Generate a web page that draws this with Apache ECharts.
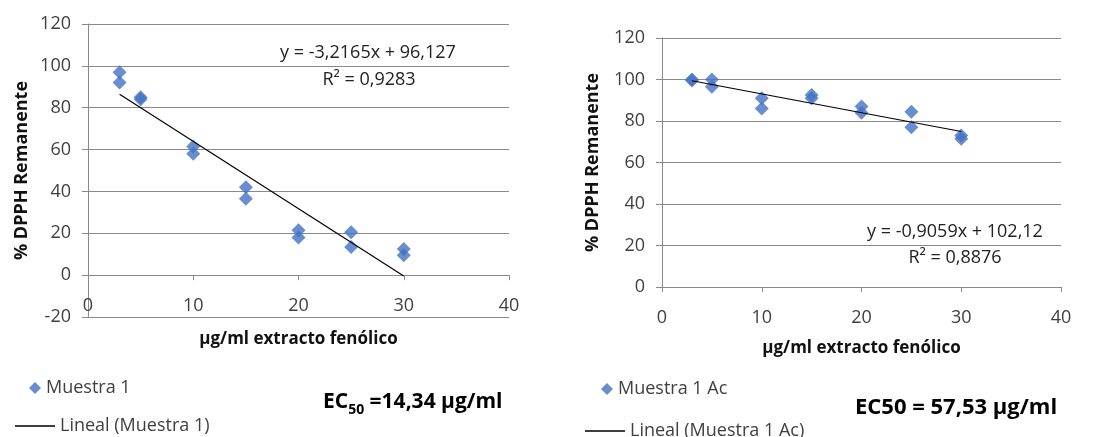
<!DOCTYPE html>
<html>
<head>
<meta charset="utf-8">
<script src="https://cdn.jsdelivr.net/npm/echarts@6/dist/echarts.min.js"></script>
<style>
  html, body { margin: 0; padding: 0; background: #ffffff; }
  #chart { width: 1093px; height: 437px; }
</style>
</head>
<body>
<div id="chart"></div>
<script>
// Concentrations (µg/ml) of phenolic extract, duplicates per level
const concMuestra1 = [3, 3, 5, 5, 10, 10, 15, 15, 20, 20, 25, 25, 30, 30];
const dpphMuestra1 = [97, 92, 85, 84, 61.5, 58, 42, 36.5, 21.5, 18, 20.5, 13.5, 12.5, 9.5];

const concMuestra1Ac = [3, 3, 5, 5, 10, 10, 15, 15, 20, 20, 25, 25, 30, 30];
const dpphMuestra1Ac = [100, 99.5, 100, 96.5, 91, 86, 92.5, 91, 87, 84, 84.5, 77, 73, 71.5];

// Linear trendlines as reported on each panel
const fitMuestra1 = { slope: -3.2165, intercept: 96.127, r2: '0,9283', eq: 'y = -3,2165x + 96,127' };
const fitMuestra1Ac = { slope: -0.9059, intercept: 102.12, r2: '0,8876', eq: 'y = -0,9059x + 102,12' };
const trendRange = [3, 30];

const ec50Left = '14,34';
const ec50Right = '57,53';

const xTitle = 'µg/ml extracto fenólico';
const yTitle = '% DPPH Remanente';

const pairs = (xs, ys) => xs.map((x, i) => [x, ys[i]]);
const trend = fit => trendRange.map(x => [x, fit.slope * x + fit.intercept]);

const FONT = '"Open Sans", "Liberation Sans", sans-serif';
const GRID_GREY = '#8a8a8a';
const LABEL_GREY = '#404040';
const BLUE = '#4472C4';

// Left panel: y runs -20..120 over a 293px plot, the x axis sits on the zero line
const LEFT_PLOT_H = 293;
const zeroLift = -LEFT_PLOT_H * 20 / 140;

function xAxisFor(gridIndex, gap, offset) {
  return {
    gridIndex, type: 'value', min: 0, max: 40, interval: 10, offset,
    axisLine: { show: true, onZero: false, lineStyle: { color: GRID_GREY, width: 1 } },
    axisTick: { show: true, length: 5, lineStyle: { color: GRID_GREY } },
    splitLine: { show: false },
    axisLabel: { fontFamily: FONT, fontSize: 18, color: LABEL_GREY, margin: 22 },
    name: xTitle, nameLocation: 'middle', nameGap: gap, nameMoveOverlap: false,
    nameTextStyle: { fontFamily: FONT, fontSize: 17, fontWeight: 'bold', color: '#111' }
  };
}
function yAxisFor(gridIndex, min, gap) {
  return {
    gridIndex, type: 'value', min, max: 120, interval: 20,
    axisLine: { show: true, onZero: false, lineStyle: { color: GRID_GREY, width: 1 } },
    axisTick: { show: true, length: 6, lineStyle: { color: GRID_GREY } },
    splitLine: { show: true, lineStyle: { color: GRID_GREY, width: 1 } },
    axisLabel: { fontFamily: FONT, fontSize: 18, color: LABEL_GREY, margin: 17 },
    name: yTitle, nameLocation: 'middle', nameRotate: 90, nameGap: gap, nameMoveOverlap: false,
    nameTextStyle: { fontFamily: FONT, fontSize: 18, fontWeight: 'bold', color: '#111' }
  };
}

const legendText = { fontFamily: FONT, fontSize: 18, color: LABEL_GREY };
const ecRich = {
  a: { fontFamily: FONT, fontSize: 21, fontWeight: 'bold', color: '#000', lineHeight: 30 },
  b: { fontFamily: FONT, fontSize: 14, fontWeight: 'bold', color: '#000', verticalAlign: 'bottom', lineHeight: 30, padding: [9, 0, 0, 0] }
};
const ecRichWide = {
  a: { fontFamily: FONT, fontSize: 22, fontWeight: 'bold', color: '#000', lineHeight: 30 }
};

const chart = echarts.init(document.getElementById('chart'), null, { renderer: 'canvas' });
chart.setOption({
  animation: false,
  backgroundColor: '#ffffff',
  grid: [
    { left: 88, right: 584, top: 24, height: LEFT_PLOT_H },
    { left: 662, right: 32, top: 38, bottom: 150 }
  ],
  xAxis: [xAxisFor(0, 56, zeroLift), xAxisFor(1, 53, 0)],
  yAxis: [yAxisFor(0, -20, 57), yAxisFor(1, 0, 60)],
  legend: [
    { data: [{ name: 'Muestra 1', icon: 'diamond' }], left: 29, top: 379, itemWidth: 12, itemHeight: 12, itemTextGap: 19, selectedMode: false, padding: 0, textStyle: legendText },
    { data: [{ name: 'Lineal (Muestra 1)', icon: 'rect' }], left: 15, top: 417, itemWidth: 40, itemHeight: 1.5, itemTextGap: 5, selectedMode: false, padding: 0, textStyle: legendText },
    { data: [{ name: 'Muestra 1 Ac', icon: 'diamond' }], left: 601, top: 380, itemWidth: 12, itemHeight: 12, itemTextGap: 20, selectedMode: false, padding: 0, textStyle: legendText },
    { data: [{ name: 'Lineal (Muestra 1 Ac)', icon: 'rect' }], left: 585, top: 422, itemWidth: 40, itemHeight: 1.5, itemTextGap: 2, selectedMode: false, padding: 0, textStyle: legendText }
  ],
  title: [
    { left: 323, top: 387, padding: 0, text: '{a|EC}{b|50}{a| =' + ec50Left + ' µg/ml}', textStyle: { rich: ecRich } },
    { left: 855, top: 393, padding: 0, text: '{a|EC50 = ' + ec50Right + ' µg/ml}', textStyle: { rich: ecRichWide } }
  ],
  graphic: [
    { type: 'text', x: 368, y: 53, style: { text: fitMuestra1.eq, font: '18px ' + FONT, fill: '#222', align: 'center', verticalAlign: 'middle', textAlign: 'center', textVerticalAlign: 'middle' } },
    { type: 'text', x: 369, y: 80, style: { text: 'R² = ' + fitMuestra1.r2, font: '18px ' + FONT, fill: '#222', align: 'center', verticalAlign: 'middle', textAlign: 'center', textVerticalAlign: 'middle' } },
    { type: 'text', x: 955, y: 232, style: { text: fitMuestra1Ac.eq, font: '18px ' + FONT, fill: '#222', align: 'center', verticalAlign: 'middle', textAlign: 'center', textVerticalAlign: 'middle' } },
    { type: 'text', x: 955, y: 258, style: { text: 'R² = ' + fitMuestra1Ac.r2, font: '18px ' + FONT, fill: '#222', align: 'center', verticalAlign: 'middle', textAlign: 'center', textVerticalAlign: 'middle' } }
  ],
  series: [
    { name: 'Muestra 1', type: 'scatter', xAxisIndex: 0, yAxisIndex: 0, symbol: 'diamond', symbolSize: 14,
      itemStyle: { color: BLUE }, data: pairs(concMuestra1, dpphMuestra1), z: 3 },
    { name: 'Lineal (Muestra 1)', type: 'line', xAxisIndex: 0, yAxisIndex: 0, showSymbol: false,
      lineStyle: { color: '#000', width: 1.2 }, itemStyle: { color: '#000' }, data: trend(fitMuestra1), z: 4 },
    { name: 'Muestra 1 Ac', type: 'scatter', xAxisIndex: 1, yAxisIndex: 1, symbol: 'diamond', symbolSize: 14,
      itemStyle: { color: BLUE }, data: pairs(concMuestra1Ac, dpphMuestra1Ac), z: 3 },
    { name: 'Lineal (Muestra 1 Ac)', type: 'line', xAxisIndex: 1, yAxisIndex: 1, showSymbol: false,
      lineStyle: { color: '#000', width: 1.2 }, itemStyle: { color: '#000' }, data: trend(fitMuestra1Ac), z: 4 }
  ]
});
</script>
</body>
</html>
